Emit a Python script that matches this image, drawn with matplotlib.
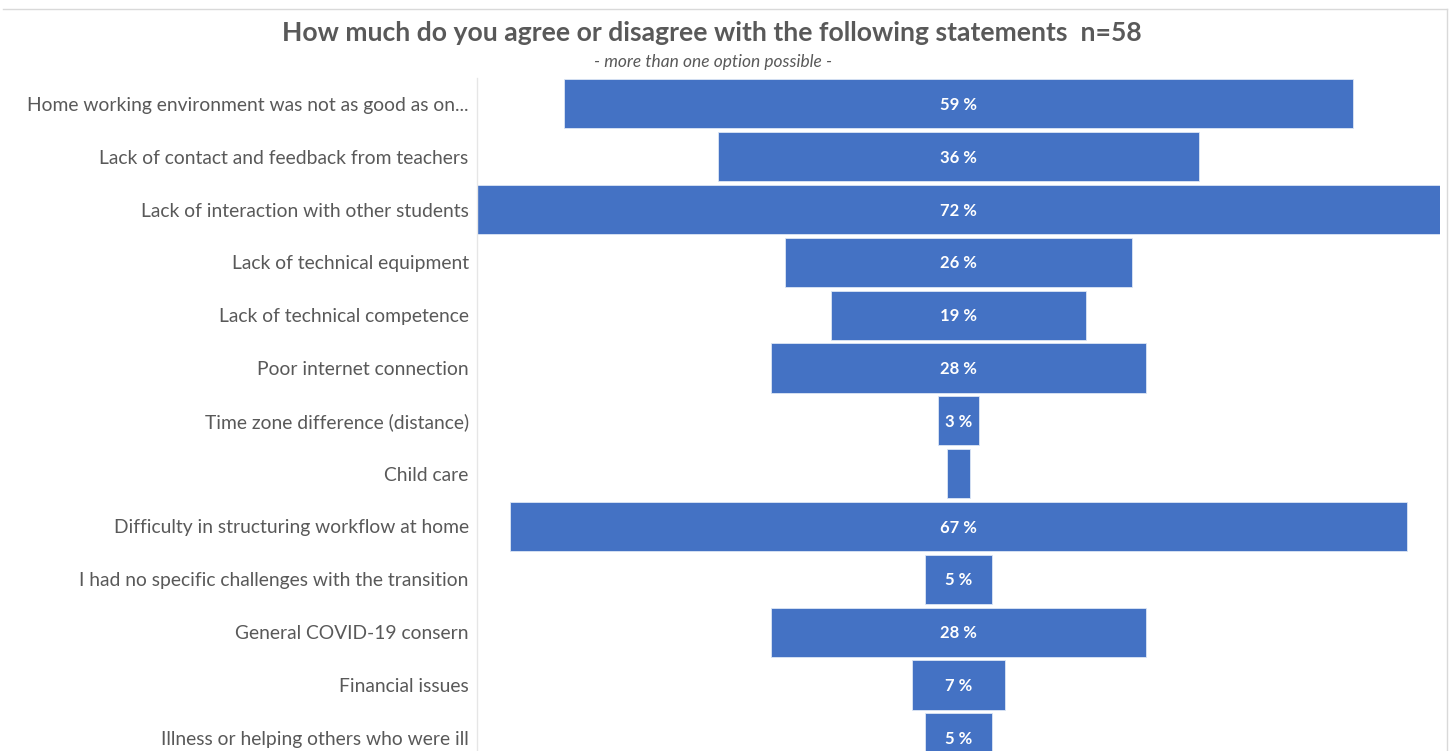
import matplotlib
matplotlib.use("Agg")
import matplotlib.pyplot as plt
from matplotlib.lines import Line2D

categories = [
    "Home working environment was not as good as on...",
    "Lack of contact and feedback from teachers",
    "Lack of interaction with other students",
    "Lack of technical equipment",
    "Lack of technical competence",
    "Poor internet connection",
    "Time zone difference (distance)",
    "Child care",
    "Difficulty in structuring workflow at home",
    "I had no specific challenges with the transition",
    "General COVID-19 consern",
    "Financial issues",
    "Illness or helping others who were ill",
]
values = [59, 36, 72, 26, 19, 28, 3, 1.7, 67, 5, 28, 7, 5]
show_label = [True, True, True, True, True, True, True, False, True, True, True, True, True]

title = "How much do you agree or disagree with the following statements  n=58"
subtitle = "- more than one option possible -"

W, H = 1453, 751
fig = plt.figure(figsize=(W / 100, H / 100), dpi=100)
fig.patch.set_facecolor("white")

font = ["Lato", "DejaVu Sans"]
text_color = "#595959"
bar_color = "#4472C4"

ax = fig.add_axes([477 / W, 0, (1440 - 477) / W, (751 - 78) / H])
ypos = list(range(len(categories)))
lefts = [-v / 2 for v in values]
ax.barh(ypos, values, left=lefts, height=0.93, color=bar_color,
        edgecolor="#dce6f5", linewidth=0.6)

for y, v, show in zip(ypos, values, show_label):
    if show:
        ax.text(0, y + 0.02, f"{v:g} %", ha="center", va="center", color="white",
                fontsize=12, fontweight="bold", family=font)

ax.set_xlim(-36, 36)
ax.set_ylim(12.25, -0.49)
ax.set_yticks(ypos)
ax.set_yticklabels(categories, family=font, fontsize=13.9, color=text_color)
ax.tick_params(axis="y", length=0, pad=6)
ax.set_xticks([])
for side in ["top", "right", "bottom"]:
    ax.spines[side].set_visible(False)
ax.spines["left"].set_color("#e6e6e6")
ax.spines["left"].set_linewidth(1.0)

fig.text(712 / W, 1 - 33 / H, title, ha="center", va="center",
         fontsize=19.1, fontweight="bold", color=text_color, family=font)
fig.text(713 / W, 1 - 62 / H, subtitle, ha="center", va="center",
         fontsize=12.5, style="italic", color=text_color, family=font)

# chart frame (top and right edges)
fig.add_artist(Line2D([3 / W, 1447 / W], [1 - 9 / H, 1 - 9 / H],
                      transform=fig.transFigure, color="#d9d9d9", linewidth=1))
fig.add_artist(Line2D([1447 / W, 1447 / W], [1 - 9 / H, 0],
                      transform=fig.transFigure, color="#d9d9d9", linewidth=1))

fig.savefig("out.png", dpi=100, facecolor="white")
